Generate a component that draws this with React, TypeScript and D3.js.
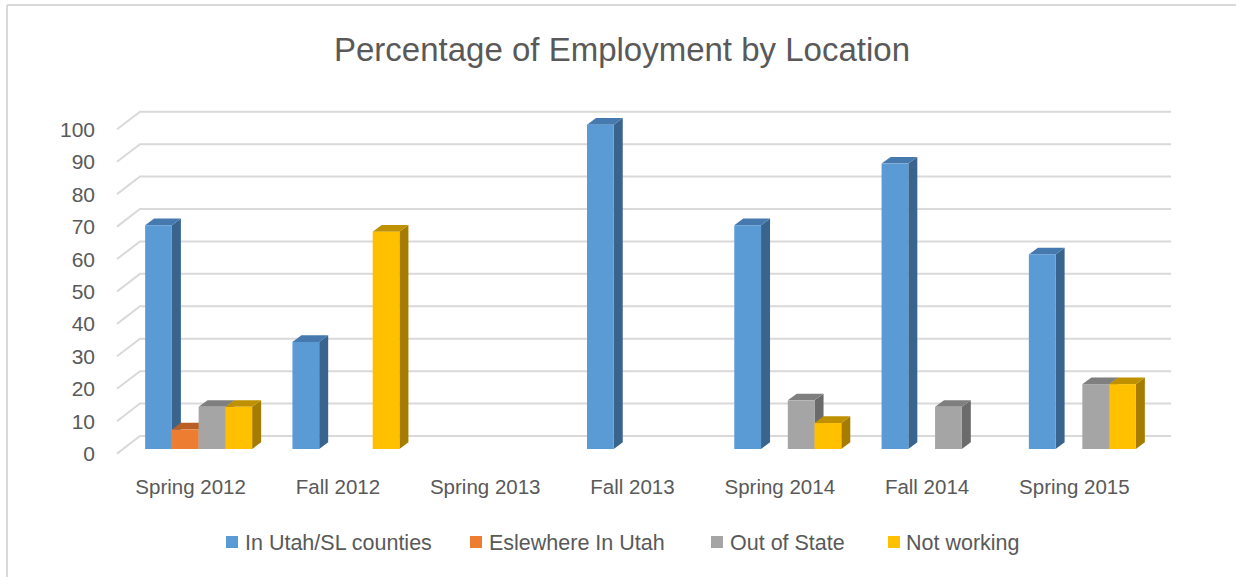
import React from "react";
import * as d3 from "d3";

const categories = ["Spring 2012", "Fall 2012", "Spring 2013", "Fall 2013", "Spring 2014", "Fall 2014", "Spring 2015"];
const seriesNames = ["In Utah/SL counties", "Eslewhere In Utah", "Out of State", "Not working"];
const inUtahSL = [69, 33, 0, 100, 69, 88, 60];
const elsewhereUtah = [6, 0, 0, 0, 0, 0, 0];
const outOfState = [13, 0, 0, 0, 15, 13, 20];
const notWorking = [13, 67, 0, 0, 8, 0, 20];
const yTicks = [0, 10, 20, 30, 40, 50, 60, 70, 80, 90, 100];

const seriesValues = [inUtahSL, elsewhereUtah, outOfState, notWorking];
const faceColors = [
  { front: "#5B9BD5", top: "#4679AE", side: "#38648E" },
  { front: "#ED7D31", top: "#B95F25", side: "#A0501E" },
  { front: "#A5A5A5", top: "#7F7F7F", side: "#6B6B6B" },
  { front: "#FFC000", top: "#BF9000", side: "#A67C00" },
];

const FONT = "'Liberation Sans', Arial, sans-serif";
const TXT = "#595959";
const GRID = "#D9D9D9";

export default function App() {
  const W = 1236, H = 577;
  const backX0 = 140, backX1 = 1171;
  const floorDx = -23, floorDy = 17.6; // front edge offset from back wall
  const barDx = -15, barDy = 13; // bar front face offset from back wall
  const depthX = 9, depthY = -6.7; // bar depth

  const x = d3.scaleBand<string>().domain(categories).range([backX0, backX1]).paddingInner(0).paddingOuter(0);
  const y = d3.scaleLinear().domain([0, 100]).range([436, 111.7]);
  const xs = d3.scaleBand<string>().domain(seriesNames).range([-53.5, 53.5]);

  const bars: React.ReactNode[] = [];
  categories.forEach((c, ci) => {
    const cx = (x(c) as number) + x.bandwidth() / 2 + barDx;
    seriesNames.forEach((s, si) => {
      const v = seriesValues[si][ci];
      if (!v) return;
      const x0 = cx + (xs(s) as number);
      const w = xs.bandwidth();
      const yb = y(0) + barDy;
      const yt = y(v) + barDy;
      const col = faceColors[si];
      bars.push(
        <g key={`${ci}-${si}`}>
          <polygon
            points={`${x0 + w},${yt} ${x0 + w + depthX},${yt + depthY} ${x0 + w + depthX},${yb + depthY} ${x0 + w},${yb}`}
            fill={col.side}
          />
          <polygon
            points={`${x0},${yt} ${x0 + depthX},${yt + depthY} ${x0 + w + depthX},${yt + depthY} ${x0 + w},${yt}`}
            fill={col.top}
          />
          <rect x={x0} y={yt} width={w} height={yb - yt} fill={col.front} />
        </g>
      );
    });
  });

  const legendItems = [
    { sx: 226, tx: 245 },
    { sx: 470, tx: 489 },
    { sx: 711, tx: 730 },
    { sx: 888, tx: 906 },
  ];

  return (
    <svg width={W} height={H} style={{ position: "absolute", left: 0, top: 0, background: "#fff" }}>
      <rect x={0} y={0} width={W} height={H} fill="#fff" />
      <line x1={7} y1={5} x2={W} y2={5} stroke={GRID} strokeWidth={2} />
      <line x1={7} y1={5} x2={7} y2={H} stroke={GRID} strokeWidth={2} />
      <text x={622} y={61} textAnchor="middle" fontFamily={FONT} fontSize={33} fill={TXT}>
        Percentage of Employment by Location
      </text>
      {yTicks.map((t) => (
        <g key={t}>
          <polyline
            points={`${backX0 + floorDx},${y(t) + floorDy} ${backX0},${y(t)} ${backX1},${y(t)}`}
            fill="none"
            stroke={GRID}
            strokeWidth={2}
          />
          <text x={95} y={y(t) + floorDy} dy="0.36em" textAnchor="end" fontFamily={FONT} fontSize={21} fill={TXT}>
            {t}
          </text>
        </g>
      ))}
      {bars}
      {categories.map((c) => (
        <text
          key={c}
          x={(x(c) as number) + x.bandwidth() / 2 + floorDx}
          y={494}
          textAnchor="middle"
          fontFamily={FONT}
          fontSize={20.5}
          fill={TXT}
        >
          {c}
        </text>
      ))}
      {seriesNames.map((s, i) => (
        <g key={s}>
          <rect x={legendItems[i].sx} y={536} width={12} height={12} fill={faceColors[i].front} />
          <text x={legendItems[i].tx} y={550} fontFamily={FONT} fontSize={21.5} fill={TXT}>
            {s}
          </text>
        </g>
      ))}
    </svg>
  );
}
